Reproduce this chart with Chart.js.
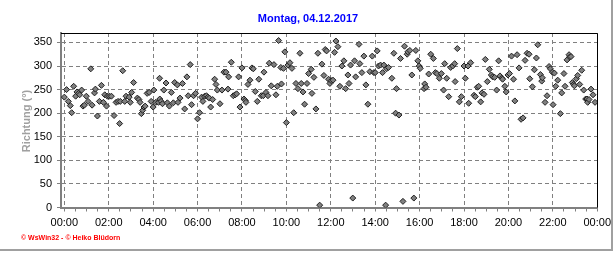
<!DOCTYPE html>
<html>
<head>
<meta charset="utf-8">
<script src="https://cdn.jsdelivr.net/npm/chart.js@4/dist/chart.umd.min.js"></script>
<style>
	html, body { margin: 0; padding: 0; background: #fff; }
	canvas { display: block; }
</style>
</head>
<body>
<canvas id="windChart" width="616" height="253"></canvas>
<script>
// wind direction readings, time of day in hours
var hours = [
	0.00, 0.10, 0.18, 0.27, 0.33, 0.42, 0.51, 0.57, 0.64, 0.69, 0.78, 0.84, 0.90, 0.99,
	1.07, 1.19, 1.25, 1.36, 1.40, 1.49, 1.58, 1.67, 1.76, 1.82, 1.90, 1.94,
	2.03, 2.12, 2.24, 2.33, 2.42, 2.49, 2.52, 2.63, 2.72, 2.78, 2.92, 2.97,
	3.03, 3.12, 3.29, 3.36, 3.41, 3.47, 3.53, 3.59, 3.64, 3.73, 3.82, 3.91,
	4.00, 4.03, 4.12, 4.24, 4.29, 4.30, 4.36, 4.42, 4.48, 4.58, 4.64, 4.73, 4.82, 4.91, 4.97,
	5.09, 5.12, 5.21, 5.32, 5.42, 5.52, 5.58, 5.67, 5.73, 5.82, 5.91,
	6.00, 6.09, 6.18, 6.24, 6.32, 6.40, 6.47, 6.53, 6.59, 6.68, 6.77, 6.83, 6.89,
	7.01, 7.10, 7.19, 7.28, 7.37, 7.40, 7.52, 7.61, 7.70, 7.76, 7.85, 7.91,
	8.00, 8.09, 8.15, 8.18, 8.27, 8.36, 8.45, 8.51, 8.60, 8.69, 8.76, 8.87, 8.96, 8.99,
	9.08, 9.17, 9.23, 9.32, 9.44, 9.53, 9.59, 9.65, 9.75, 9.78, 9.87, 9.93,
	10.00, 10.07, 10.16, 10.25, 10.33, 10.43, 10.52, 10.61, 10.67, 10.75, 10.82, 10.93,
	11.00, 11.12, 11.15, 11.24, 11.33, 11.42, 11.50, 11.60, 11.69, 11.75, 11.81, 11.90, 11.96,
	12.02, 12.10, 12.17, 12.23, 12.32, 12.41, 12.50, 12.59, 12.67, 12.77, 12.82, 12.89, 12.99,
	13.07, 13.12, 13.27, 13.31, 13.40, 13.49, 13.58, 13.67, 13.76, 13.87, 13.94,
	14.00, 14.09, 14.15, 14.24, 14.33, 14.39, 14.47, 14.51, 14.60, 14.75, 14.84, 14.92, 14.96,
	15.07, 15.14, 15.25, 15.32, 15.44, 15.47, 15.56, 15.65, 15.74, 15.83, 15.92, 15.98,
	16.03, 16.20, 16.23, 16.29, 16.41, 16.50, 16.62, 16.71, 16.78, 16.89, 16.98,
	17.08, 17.13, 17.22, 17.31, 17.40, 17.49, 17.58, 17.60, 17.70, 17.79, 17.88,
	18.00, 18.06, 18.18, 18.21, 18.30, 18.45, 18.51, 18.60, 18.66, 18.75, 18.81, 18.90, 18.96,
	19.05, 19.14, 19.23, 19.29, 19.38, 19.47, 19.56, 19.62, 19.71, 19.74, 19.84, 19.90, 19.98,
	20.05, 20.14, 20.23, 20.29, 20.39, 20.48, 20.57, 20.66, 20.75, 20.84, 20.93, 20.96,
	21.08, 21.17, 21.26, 21.32, 21.44, 21.50, 21.53, 21.65, 21.74, 21.83, 21.89, 21.98,
	22.01, 22.07, 22.13, 22.22, 22.34, 22.40, 22.50, 22.55, 22.64, 22.73, 22.76, 22.82, 22.88, 22.94, 22.97,
	23.06, 23.12, 23.21, 23.30, 23.39, 23.48, 23.54, 23.57, 23.63, 23.72, 23.81, 23.90
];

var direction = [
	234, 250, 225, 216, 201, 257, 236, 245, 242, 239, 249, 215, 217, 236,
	225, 294, 217, 243, 251, 194, 225, 259, 223, 239, 215, 236,
	236, 236, 195, 223, 225, 178, 225, 290, 225, 236, 234, 223,
	244, 265, 232, 229, 223, 199, 206, 213, 215, 242, 244, 225,
	213, 249, 223, 223, 274, 230, 225, 220, 249, 264, 222, 215, 244, 222, 265,
	260, 223, 232, 263, 209, 277, 237, 303, 218, 237, 242,
	188, 201, 234, 225, 236, 237, 234, 232, 213, 229, 272, 261, 249,
	220, 249, 287, 287, 251, 277, 308, 237, 239, 241, 277, 213,
	296, 230, 227, 223, 261, 270, 296, 294, 246, 225, 272, 237, 237, 287,
	244, 237, 306, 258, 303, 239, 257, 354, 297, 262, 295, 330,
	180, 302, 307, 295, 201, 263, 252, 327, 263, 245, 219, 263,
	284, 293, 242, 276, 209, 327, 5, 304, 280, 335, 332, 272, 263,
	269, 270, 329, 353, 341, 257, 300, 311, 252, 281, 263, 302, 20,
	311, 277, 346, 305, 286, 321, 260, 219, 288, 321, 286,
	286, 332, 300, 302, 286, 302, 5, 294, 297, 274, 327, 200, 252,
	196, 316, 13, 342, 325, 330, 333, 281, 20, 333, 311, 300,
	295, 252, 262, 255, 283, 325, 316, 286, 284, 274, 284,
	249, 305, 274, 235, 297, 300, 305, 267, 337, 224, 235,
	300, 274, 300, 221, 307, 238, 235, 255, 257, 224, 243, 240, 314,
	267, 293, 281, 277, 276, 249, 311, 279, 274, 272, 257, 245, 281,
	284, 321, 272, 226, 324, 296, 187, 190, 312, 327, 325, 273,
	256, 292, 317, 345, 282, 268, 275, 223, 237, 299, 294, 287,
	218, 285, 257, 270, 199, 243, 284, 257, 313, 324, 319, 320, 265, 261, 258,
	273, 280, 261, 291, 249, 230, 230, 223, 229, 251, 239, 223
];

var titleText = "Montag, 04.12.2017",
	 yAxisLabel = "Richtung (°)",
	 footerText = "© WsWin32 - © Heiko Blüdorn",
	 yTickValues = [0, 50, 100, 150, 200, 250, 300, 350],
	 xTickStep = 0.5,
	 xLabelStep = 2;

var points = [];
for (var i = 0; i < hours.length; i++) {
	points.push({ x: hours[i], y: direction[i] });
}

function hourLabel(v) {
	var h = Math.round(v) % 24;
	return (h < 10 ? "0" : "") + h + ":00";
}

var framePlugin = {
	id: "frame",
	afterDraw: function(chart) {
		var ctx = chart.ctx,
			 area = chart.chartArea;
		ctx.save();

		// black top and right edge of the plot box
		ctx.strokeStyle = "#000";
		ctx.lineWidth = 1;
		ctx.beginPath();
		ctx.moveTo(area.left, Math.round(area.top) + 0.5);
		ctx.lineTo(Math.round(area.right) + 0.5, Math.round(area.top) + 0.5);
		ctx.lineTo(Math.round(area.right) + 0.5, area.bottom);
		ctx.stroke();

		// outer grey frame
		ctx.strokeStyle = "#a0a0a0";
		ctx.lineWidth = 2;
		ctx.beginPath();
		ctx.moveTo(0, 250);
		ctx.lineTo(612, 250);
		ctx.lineTo(612, 0);
		ctx.stroke();

		ctx.textAlign = "center";
		ctx.textBaseline = "middle";

		ctx.fillStyle = "#0000ff";
		ctx.font = "bold 11px 'Liberation Sans', Arial, sans-serif";
		ctx.fillText(titleText, 308, 18.5);

		ctx.save();
		ctx.translate(26.5, 121);
		ctx.rotate(-Math.PI / 2);
		ctx.fillStyle = "#a0a0a0";
		ctx.fillText(yAxisLabel, 0, 0);
		ctx.restore();

		ctx.textAlign = "left";
		ctx.fillStyle = "#ff0000";
		ctx.font = "bold 7px 'Liberation Sans', Arial, sans-serif";
		ctx.fillText(footerText, 21, 238.5);

		ctx.restore();
	}
};

var windChart = new Chart(document.getElementById("windChart").getContext("2d"), {
	type: "scatter",
	data: {
		datasets: [{
			data: points,
			pointStyle: "rectRot",
			pointRadius: 3,
			backgroundColor: "#808080",
			borderColor: "#202020",
			borderWidth: 1
		}]
	},
	options: {
		responsive: false,
		animation: false,
		devicePixelRatio: 1,
		layout: {
			padding: { top: 33, right: 18.5, bottom: 0, left: 0 }
		},
		plugins: {
			legend: { display: false },
			tooltip: { enabled: false },
			title: { display: false }
		},
		scales: {
			x: {
				type: "linear",
				min: -0.15,
				max: 24,
				afterFit: function(scale) { scale.height = 45.5; },
				afterBuildTicks: function(scale) {
					var t = [];
					for (var v = 0; v <= 24; v += xTickStep) t.push({ value: v });
					scale.ticks = t;
				},
				grid: {
					color: function(c) {
						return (c.tick && c.tick.value % xLabelStep === 0) ? "#808080" : "rgba(0,0,0,0)";
					},
					tickColor: "#808080",
					tickLength: 4,
					tickBorderDash: []
				},
				border: { color: "#808080", width: 2, dash: [4, 3] },
				ticks: {
					autoSkip: false,
					maxRotation: 0,
					padding: 5,
					color: "#000",
					font: { family: "'Liberation Sans', Arial, sans-serif", size: 11 },
					callback: function(v) {
						return v % xLabelStep === 0 ? hourLabel(v) : "";
					}
				}
			},
			y: {
				min: 0,
				max: 370,
				afterFit: function(scale) { scale.width = 61; },
				afterBuildTicks: function(scale) {
					scale.ticks = yTickValues.map(function(v) { return { value: v }; });
				},
				grid: {
					color: "#808080",
					tickColor: "#808080",
					tickLength: 4,
					tickBorderDash: []
				},
				border: { color: "#808080", width: 2, dash: [4, 3] },
				ticks: {
					padding: 5,
					color: "#000",
					font: { family: "'Liberation Sans', Arial, sans-serif", size: 11 }
				}
			}
		}
	},
	plugins: [framePlugin]
});
</script>
</body>
</html>
